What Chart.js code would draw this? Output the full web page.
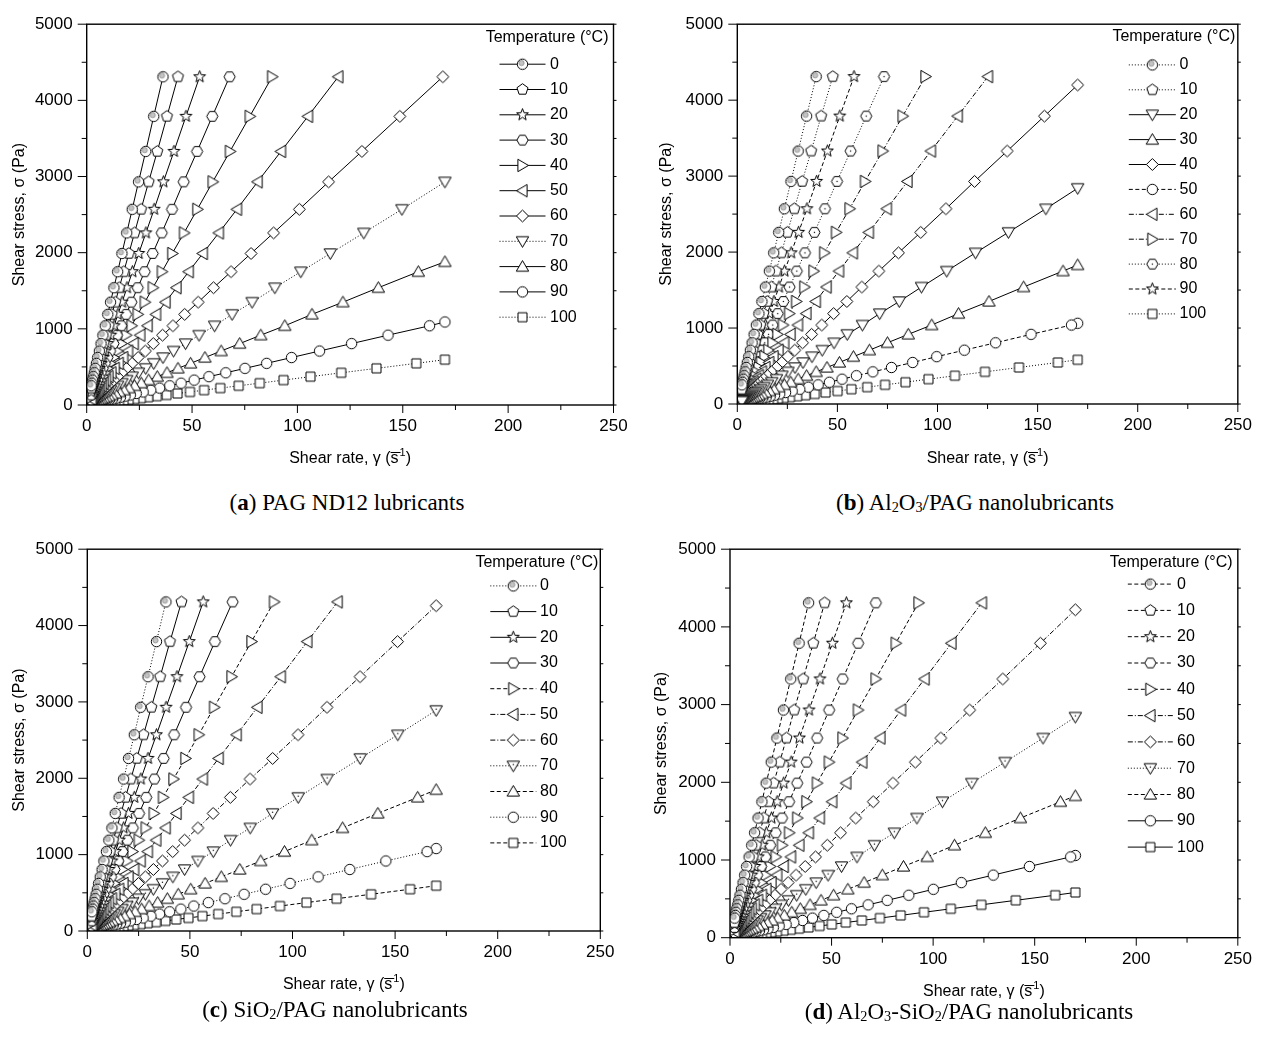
<!DOCTYPE html>
<html>
<head>
<meta charset="utf-8">
<script src="https://cdn.jsdelivr.net/npm/chart.js@4.4.1/dist/chart.umd.min.js"></script>
<style>
  body { margin: 0; background: #fff; width: 1263px; height: 1039px; position: relative; overflow: hidden; }
  canvas { position: absolute; }
  .cap { position: absolute; width: 460px; line-height: 30px; font-family: 'Liberation Serif', 'Times New Roman', serif; font-size: 23px; color: #000; text-align: center; white-space: nowrap; }
  .cap sub { font-size: 62%; vertical-align: -0.12em; }
</style>
</head>
<body>
<canvas id="pa" width="640" height="475" style="left:0;top:0"></canvas>
<canvas id="pb" width="623" height="475" style="left:640px;top:0"></canvas>
<canvas id="pc" width="640" height="480" style="left:0;top:525px"></canvas>
<canvas id="pd" width="623" height="480" style="left:640px;top:525px"></canvas>

<div class="cap" style="left:117px;top:488px">(<b>a</b>) PAG ND12 lubricants</div>
<div class="cap" style="left:745px;top:488px">(<b>b</b>) Al<sub>2</sub>O<sub>3</sub>/PAG nanolubricants</div>
<div class="cap" style="left:105px;top:995px">(<b>c</b>) SiO<sub>2</sub>/PAG nanolubricants</div>
<div class="cap" style="left:739px;top:997px">(<b>d</b>) Al<sub>2</sub>O<sub>3</sub>-SiO<sub>2</sub>/PAG nanolubricants</div>

<script>
// Shear stress levels of the ramp (Pa), shared by every series
const STRESS = [4310, 3790, 3330, 2930, 2570, 2260, 1990, 1750, 1540, 1350, 1190, 1040, 917, 806, 709, 623,
  547, 481, 423, 372, 327, 287, 252, 222, 195, 171, 151, 132, 116, 102, 90, 79, 70, 61, 54, 47, 42, 36,
  32, 28, 25, 22, 19, 17, 15];
const TEMPS = ['0', '10', '20', '30', '40', '50', '60', '70', '80', '90', '100'];
const END_RATE = 170; // last point of the series that stop at the max shear rate

// (a) PAG ND12 - shear rates (1/s), index i matches STRESS[start + i]
const A_RATE = [
  [36.2, 31.8, 28.0, 24.6, 21.6, 19.0, 16.7, 14.7, 12.9, 11.3, 10.0, 8.8, 7.7, 6.8, 6.0, 5.2, 4.6, 4.0, 3.6, 3.1, 2.7, 2.4, 2.1],
  [43.3, 38.1, 33.5, 29.4, 25.8, 22.7, 20.0, 17.6, 15.4, 13.6, 11.9, 10.5, 9.2, 8.1, 7.1, 6.3, 5.5, 4.8, 4.2, 3.7, 3.3, 2.9, 2.5, 2.2],
  [53.6, 47.1, 41.4, 36.4, 32.0, 28.1, 24.7, 21.7, 19.1, 16.8, 14.8, 13.0, 11.4, 10.0, 8.8, 7.7, 6.8, 6.0, 5.3, 4.6, 4.1, 3.6, 3.1, 2.8, 2.4, 2.1],
  [67.8, 59.6, 52.4, 46.0, 40.5, 35.6, 31.3, 27.5, 24.2, 21.2, 18.7, 16.4, 14.4, 12.7, 11.1, 9.8, 8.6, 7.6, 6.7, 5.8, 5.1, 4.5, 4.0, 3.5, 3.1, 2.7, 2.4, 2.1],
  [88.0, 77.4, 68.0, 59.8, 52.5, 46.2, 40.6, 35.7, 31.4, 27.6, 24.2, 21.3, 18.7, 16.5, 14.5, 12.7, 11.2, 9.8, 8.6, 7.6, 6.7, 5.9, 5.2, 4.5, 4.0, 3.5, 3.1, 2.7, 2.4, 2.1],
  [119.4, 105.0, 92.2, 81.1, 71.3, 62.7, 55.1, 48.4, 42.6, 37.4, 32.9, 28.9, 25.4, 22.3, 19.6, 17.3, 15.2, 13.3, 11.7, 10.3, 9.1, 8.0, 7.0, 6.1, 5.4, 4.8, 4.2, 3.7, 3.2, 2.8, 2.5, 2.2],
  [169.0, 148.6, 130.6, 114.8, 100.9, 88.7, 78.0, 68.5, 60.2, 52.9, 46.5, 40.9, 36.0, 31.6, 27.8, 24.4, 21.5, 18.9, 16.6, 14.6, 12.8, 11.3, 9.9, 8.7, 7.6, 6.7, 5.9, 5.2, 4.6, 4.0, 3.5, 3.1, 2.7, 2.4, 2.1],
  [149.6, 131.5, 115.6, 101.6, 89.3, 78.5, 69.0, 60.7, 53.3, 46.9, 41.2, 36.2, 31.8, 28.0, 24.6, 21.6, 19.0, 16.7, 14.7, 12.9, 11.3, 10.0, 8.8, 7.7, 6.8, 6.0, 5.2, 4.6, 4.0, 3.6, 3.1, 2.7, 2.4, 2.1],
  [157.4, 138.4, 121.6, 106.9, 94.0, 82.6, 72.6, 63.8, 56.1, 49.3, 43.3, 38.1, 33.5, 29.4, 25.9, 22.7, 20.0, 17.6, 15.4, 13.6, 11.9, 10.5, 9.2, 8.1, 7.1, 6.3, 5.5, 4.8, 4.3, 3.7, 3.3, 2.9, 2.5, 2.2],
  [162.7, 143.0, 125.7, 110.5, 97.2, 85.4, 75.1, 66.0, 58.0, 51.0, 44.8, 39.4, 34.6, 30.4, 26.8, 23.5, 20.7, 18.2, 16.0, 14.0, 12.3, 10.8, 9.5, 8.4, 7.4, 6.5, 5.7, 5.0, 4.4, 3.9, 3.4, 3.0, 2.6, 2.3],
  [156.4, 137.5, 120.8, 106.2, 93.4, 82.1, 72.1, 63.4, 55.7, 49.0, 43.1, 37.9, 33.3, 29.2, 25.7, 22.6, 19.9, 17.5, 15.3, 13.5, 11.9, 10.4, 9.2, 8.1, 7.1, 6.2, 5.5, 4.8, 4.2]
];
const A_START = [0, 0, 0, 0, 0, 0, 0, 4, 7, 11, 16];
const A_END = [null, null, null, null, null, null, null, 2930, 1880, 1090, 595];

// (b) Al2O3/PAG
const B_RATE = [
  [39.4, 34.6, 30.4, 26.8, 23.5, 20.7, 18.2, 16.0, 14.0, 12.3, 10.8, 9.5, 8.4, 7.4, 6.5, 5.7, 5.0, 4.4, 3.9, 3.4, 3.0, 2.6, 2.3],
  [47.7, 41.9, 36.9, 32.4, 28.5, 25.0, 22.0, 19.3, 17.0, 14.9, 13.1, 11.5, 10.1, 8.9, 7.8, 6.9, 6.1, 5.3, 4.7, 4.1, 3.6, 3.2, 2.8, 2.5, 2.2],
  [154.1, 135.4, 119.0, 104.6, 92.0, 80.9, 71.1, 62.5, 54.9, 48.3, 42.4, 37.3, 32.8, 28.8, 25.3, 22.3, 19.6, 17.2, 15.1, 13.3, 11.7, 10.3, 9.0, 7.9, 7.0, 6.1, 5.4, 4.7, 4.2, 3.7, 3.2, 2.8, 2.5, 2.2],
  [162.7, 143.0, 125.7, 110.5, 97.1, 85.4, 75.0, 66.0, 58.0, 51.0, 44.8, 39.4, 34.6, 30.4, 26.7, 23.5, 20.7, 18.2, 16.0, 14.0, 12.3, 10.8, 9.5, 8.4, 7.4, 6.5, 5.7, 5.0, 4.4, 3.9, 3.4, 3.0, 2.6, 2.3],
  [153.4, 134.8, 118.5, 104.2, 91.6, 80.5, 70.7, 62.2, 54.7, 48.1, 42.2, 37.1, 32.6, 28.7, 25.2, 22.2, 19.5, 17.1, 15.1, 13.2, 11.6, 10.2, 9.0, 7.9, 6.9, 6.1, 5.4, 4.7, 4.1, 3.6, 3.2, 2.8, 2.5, 2.2],
  [166.9, 146.7, 129.0, 113.4, 99.6, 87.6, 77.0, 67.7, 59.5, 52.3, 46.0, 40.4, 35.5, 31.2, 27.4, 24.1, 21.2, 18.6, 16.4, 14.4, 12.7, 11.1, 9.8, 8.6, 7.6, 6.6, 5.8, 5.1, 4.5, 4.0, 3.5, 3.1, 2.7, 2.4],
  [125.2, 110.1, 96.7, 85.0, 74.7, 65.7, 57.7, 50.8, 44.6, 39.2, 34.5, 30.3, 26.6, 23.4, 20.6, 18.1, 15.9, 14.0, 12.3, 10.8, 9.5, 8.3, 7.3, 6.4, 5.7, 5.0, 4.4, 3.8, 3.4, 3.0, 2.6, 2.3],
  [94.0, 82.6, 72.6, 63.8, 56.1, 49.3, 43.4, 38.1, 33.5, 29.4, 25.9, 22.8, 20.0, 17.6, 15.5, 13.6, 11.9, 10.5, 9.2, 8.1, 7.1, 6.3, 5.5, 4.8, 4.3, 3.7, 3.3, 2.9, 2.5, 2.2],
  [73.3, 64.4, 56.6, 49.8, 43.8, 38.5, 33.8, 29.7, 26.1, 23.0, 20.2, 17.7, 15.6, 13.7, 12.0, 10.6, 9.3, 8.2, 7.2, 6.3, 5.6, 4.9, 4.3, 3.8, 3.3, 2.9, 2.6, 2.3],
  [58.3, 51.2, 45.0, 39.6, 34.8, 30.6, 26.9, 23.6, 20.8, 18.3, 16.1, 14.1, 12.4, 10.9, 9.6, 8.4, 7.4, 6.5, 5.7, 5.0, 4.4, 3.9, 3.4, 3.0, 2.6, 2.3],
  [160.1, 140.7, 123.7, 108.7, 95.5, 84.0, 73.8, 64.9, 57.0, 50.1, 44.1, 38.7, 34.0, 29.9, 26.3, 23.1, 20.3, 17.9, 15.7, 13.8, 12.1, 10.7, 9.4, 8.2, 7.2, 6.4, 5.6, 4.9, 4.3]
];
const B_START = [0, 0, 4, 7, 1, 11, 0, 0, 0, 0, 16];
const B_END = [null, null, 2840, 1830, 4200, 1063, null, null, null, null, 582];

// (c) SiO2/PAG
const C_RATE = [
  [38.3, 33.7, 29.6, 26.0, 22.9, 20.1, 17.7, 15.5, 13.6, 12.0, 10.5, 9.3, 8.1, 7.2, 6.3, 5.5, 4.9, 4.3, 3.8, 3.3, 2.9, 2.6, 2.2],
  [45.9, 40.3, 35.5, 31.2, 27.4, 24.1, 21.2, 18.6, 16.4, 14.4, 12.6, 11.1, 9.8, 8.6, 7.5, 6.6, 5.8, 5.1, 4.5, 4.0, 3.5, 3.1, 2.7, 2.4, 2.1],
  [56.5, 49.7, 43.7, 38.4, 33.7, 29.6, 26.1, 22.9, 20.1, 17.7, 15.6, 13.7, 12.0, 10.6, 9.3, 8.2, 7.2, 6.3, 5.5, 4.9, 4.3, 3.8, 3.3, 2.9, 2.6, 2.2],
  [70.8, 62.2, 54.7, 48.1, 42.3, 37.2, 32.7, 28.7, 25.2, 22.2, 19.5, 17.1, 15.1, 13.2, 11.6, 10.2, 9.0, 7.9, 6.9, 6.1, 5.4, 4.7, 4.1, 3.6, 3.2, 2.8, 2.5, 2.2],
  [91.0, 80.0, 70.3, 61.8, 54.3, 47.8, 42.0, 36.9, 32.4, 28.5, 25.1, 22.0, 19.4, 17.0, 15.0, 13.1, 11.6, 10.2, 8.9, 7.8, 6.9, 6.1, 5.3, 4.7, 4.1, 3.6, 3.2, 2.8, 2.5, 2.2],
  [122.0, 107.2, 94.3, 82.9, 72.8, 64.0, 56.3, 49.5, 43.5, 38.2, 33.6, 29.5, 26.0, 22.8, 20.1, 17.6, 15.5, 13.6, 12.0, 10.5, 9.2, 8.1, 7.1, 6.3, 5.5, 4.9, 4.3, 3.8, 3.3, 2.9, 2.5, 2.2],
  [151.2, 132.9, 116.8, 102.7, 90.3, 79.3, 69.7, 61.3, 53.9, 47.4, 41.6, 36.6, 32.2, 28.3, 24.9, 21.8, 19.2, 16.9, 14.8, 13.0, 11.5, 10.1, 8.9, 7.8, 6.8, 6.0, 5.3, 4.6, 4.1, 3.6, 3.2, 2.8, 2.4, 2.1],
  [151.3, 133.0, 116.9, 102.8, 90.3, 79.4, 69.8, 61.4, 53.9, 47.4, 41.7, 36.6, 32.2, 28.3, 24.9, 21.9, 19.2, 16.9, 14.9, 13.1, 11.5, 10.1, 8.9, 7.8, 6.8, 6.0, 5.3, 4.7, 4.1, 3.6, 3.2, 2.8, 2.4, 2.1],
  [161.0, 141.6, 124.4, 109.4, 96.1, 84.5, 74.3, 65.3, 57.4, 50.4, 44.3, 39.0, 34.3, 30.1, 26.5, 23.3, 20.5, 18.0, 15.8, 13.9, 12.2, 10.7, 9.4, 8.3, 7.3, 6.4, 5.6, 5.0, 4.4, 3.8, 3.4, 3.0, 2.6, 2.3],
  [165.6, 145.5, 127.9, 112.5, 98.8, 86.9, 76.4, 67.1, 59.0, 51.9, 45.6, 40.1, 35.2, 31.0, 27.2, 23.9, 21.0, 18.5, 16.2, 14.3, 12.6, 11.0, 9.7, 8.5, 7.5, 6.6, 5.8, 5.1, 4.5, 3.9, 3.5, 3.0, 2.7, 2.3],
  [157.3, 138.3, 121.5, 106.8, 93.9, 82.5, 72.6, 63.8, 56.1, 49.3, 43.3, 38.1, 33.5, 29.4, 25.9, 22.7, 20.0, 17.6, 15.4, 13.6, 11.9, 10.5, 9.2, 8.1, 7.1, 6.3, 5.5, 4.8, 4.3]
];
const C_START = [0, 0, 0, 0, 0, 0, 1, 4, 7, 11, 16];
const C_END = [null, null, null, null, null, null, 4260, 2890, 1850, 1080, 593];

// (d) Al2O3-SiO2/PAG
const D_RATE = [
  [38.7, 34.0, 29.9, 26.3, 23.1, 20.3, 17.8, 15.7, 13.8, 12.1, 10.7, 9.4, 8.2, 7.2, 6.4, 5.6, 4.9, 4.3, 3.8, 3.3, 2.9, 2.6, 2.3],
  [46.6, 41.0, 36.0, 31.6, 27.8, 24.5, 21.5, 18.9, 16.6, 14.6, 12.8, 11.3, 9.9, 8.7, 7.7, 6.7, 5.9, 5.2, 4.6, 4.0, 3.5, 3.1, 2.7, 2.4, 2.1],
  [57.3, 50.4, 44.3, 38.9, 34.2, 30.1, 26.4, 23.2, 20.4, 17.9, 15.8, 13.9, 12.2, 10.7, 9.4, 8.3, 7.3, 6.4, 5.6, 4.9, 4.3, 3.8, 3.4, 3.0, 2.6, 2.3],
  [71.8, 63.1, 55.5, 48.8, 42.9, 37.7, 33.1, 29.1, 25.6, 22.5, 19.8, 17.4, 15.3, 13.4, 11.8, 10.4, 9.1, 8.0, 7.0, 6.2, 5.4, 4.8, 4.2, 3.7, 3.2, 2.9, 2.5, 2.2],
  [92.8, 81.6, 71.7, 63.0, 55.4, 48.7, 42.8, 37.6, 33.1, 29.1, 25.6, 22.5, 19.7, 17.4, 15.3, 13.4, 11.8, 10.4, 9.1, 8.0, 7.0, 6.2, 5.4, 4.8, 4.2, 3.7, 3.2, 2.9, 2.5, 2.2],
  [124.0, 109.0, 95.8, 84.2, 74.0, 65.1, 57.2, 50.3, 44.2, 38.8, 34.1, 30.0, 26.4, 23.2, 20.4, 17.9, 15.7, 13.8, 12.2, 10.7, 9.4, 8.3, 7.3, 6.4, 5.6, 4.9, 4.3, 3.8, 3.4, 2.9, 2.6, 2.3],
  [152.8, 134.3, 118.0, 103.8, 91.2, 80.2, 70.5, 61.9, 54.4, 47.9, 42.1, 37.0, 32.5, 28.6, 25.1, 22.1, 19.4, 17.1, 15.0, 13.2, 11.6, 10.2, 8.9, 7.9, 6.9, 6.1, 5.3, 4.7, 4.1, 3.6, 3.2, 2.8, 2.5, 2.2],
  [154.1, 135.4, 119.0, 104.6, 92.0, 80.9, 71.1, 62.5, 54.9, 48.3, 42.4, 37.3, 32.8, 28.8, 25.3, 22.3, 19.6, 17.2, 15.1, 13.3, 11.7, 10.3, 9.0, 7.9, 7.0, 6.1, 5.4, 4.7, 4.2, 3.7, 3.2, 2.8, 2.5, 2.2],
  [162.7, 143.0, 125.7, 110.5, 97.1, 85.4, 75.0, 66.0, 58.0, 51.0, 44.8, 39.4, 34.6, 30.4, 26.7, 23.5, 20.7, 18.2, 16.0, 14.0, 12.3, 10.8, 9.5, 8.4, 7.4, 6.5, 5.7, 5.0, 4.4, 3.9, 3.4, 3.0, 2.6, 2.3],
  [167.7, 147.4, 129.6, 113.9, 100.1, 88.0, 77.4, 68.0, 59.8, 52.5, 46.2, 40.6, 35.7, 31.4, 27.6, 24.2, 21.3, 18.7, 16.5, 14.5, 12.7, 11.2, 9.8, 8.6, 7.6, 6.7, 5.9, 5.2, 4.5, 4.0, 3.5, 3.1, 2.7, 2.4],
  [160.1, 140.7, 123.7, 108.7, 95.5, 84.0, 73.8, 64.9, 57.0, 50.1, 44.1, 38.7, 34.0, 29.9, 26.3, 23.1, 20.3, 17.9, 15.7, 13.8, 12.1, 10.7, 9.4, 8.2, 7.2, 6.4, 5.6, 4.9, 4.3]
];
const D_START = [0, 0, 0, 0, 0, 0, 1, 4, 7, 11, 16];
const D_END = [null, null, null, null, null, null, 4220, 2840, 1825, 1058, 582];

// marker and line style per legend row
const A_SHAPES = ['half', 'pent', 'star', 'hex', 'right', 'left', 'diamond', 'down', 'up', 'circle', 'square'];
const B_SHAPES = ['half', 'pent', 'down', 'up', 'diamond', 'circle', 'left', 'right', 'hexDot', 'star', 'square'];
const C_SHAPES = ['half', 'pent', 'star', 'hex', 'right', 'left', 'diamond', 'downDot', 'up', 'circle', 'square'];
const A_DASH = ['solid', 'solid', 'solid', 'solid', 'solid', 'solid', 'solid', 'dot', 'solid', 'solid', 'dot'];
const B_DASH = ['dot', 'dot', 'solid', 'solid', 'solid', 'dash', 'dashdot', 'dashdot', 'dot', 'dash', 'dot'];
const C_DASH = ['dot', 'solid', 'solid', 'solid', 'dash', 'dashdot', 'dashdot', 'dot', 'dash', 'dot', 'dash'];
const D_DASH = ['dash', 'dash', 'dash', 'dash', 'dash', 'dashdot', 'dashdot', 'dot', 'dash', 'solid', 'solid'];

const DASHES = { solid: [], dot: [1, 2], dash: [4, 2.5], dashdot: [5, 2, 1, 2] };
const FONT = '"Liberation Sans", Arial, sans-serif';
Chart.defaults.font.family = FONT;
Chart.defaults.color = '#000';

function makeMarker(kind) {
  const size = 17, c = 8.5;
  const cv = document.createElement('canvas');
  cv.width = size;
  cv.height = size;
  const g = cv.getContext('2d');
  g.lineWidth = 1;
  g.strokeStyle = '#000';
  g.fillStyle = '#fff';
  const poly = pts => {
    pts.forEach(([px, py], i) => i ? g.lineTo(c + px, c + py) : g.moveTo(c + px, c + py));
    g.closePath();
  };
  const ngon = (n, r, a0) => {
    const pts = [];
    for (let i = 0; i < n; i++) {
      const t = a0 + i * 2 * Math.PI / n;
      pts.push([r * Math.cos(t), r * Math.sin(t)]);
    }
    poly(pts);
  };
  g.beginPath();
  switch (kind) {
    case 'circle':
    case 'half': g.arc(c, c, 5.2, 0, Math.PI * 2); break;
    case 'square': g.rect(c - 4.5, c - 4.5, 9, 9); break;
    case 'diamond': poly([[0, -6], [6, 0], [0, 6], [-6, 0]]); break;
    case 'up': poly([[0, -6], [6.2, 4.6], [-6.2, 4.6]]); break;
    case 'down':
    case 'downDot': poly([[0, 6], [6.2, -4.6], [-6.2, -4.6]]); break;
    case 'right': poly([[6, 0], [-4.6, -6.2], [-4.6, 6.2]]); break;
    case 'left': poly([[-6, 0], [4.6, -6.2], [4.6, 6.2]]); break;
    case 'pent': ngon(5, 5.8, -Math.PI / 2); break;
    case 'hex':
    case 'hexDot': ngon(6, 5.6, 0); break;
    case 'star': {
      const pts = [];
      for (let i = 0; i < 10; i++) {
        const r = i % 2 ? 2.6 : 6.2;
        const t = -Math.PI / 2 + i * Math.PI / 5;
        pts.push([r * Math.cos(t), r * Math.sin(t)]);
      }
      poly(pts);
      break;
    }
  }
  g.fill();
  g.stroke();
  if (kind === 'half') {
    g.beginPath();
    g.arc(c - 1, c - 1.3, 2.6, 0, Math.PI * 2);
    g.fillStyle = '#c4c4c4';
    g.fill();
    g.strokeStyle = '#9a9a9a';
    g.stroke();
  }
  if (kind === 'downDot' || kind === 'hexDot') {
    g.fillStyle = '#000';
    g.fillRect(c - 0.6, kind === 'downDot' ? c - 1.8 : c - 0.6, 1.2, 1.2);
  }
  return cv;
}

function drawXTitle(ctx, cx, cy) {
  const big = '16px ' + FONT, small = '11px ' + FONT;
  const head = 'Shear rate, \u03b3 (s', sup = '1', tail = ')';
  ctx.font = big;
  const w0 = ctx.measureText(head).width;
  const ws = ctx.measureText('s').width;
  const w2 = ctx.measureText(tail).width;
  ctx.font = small;
  const w1 = ctx.measureText(sup).width;
  const x0 = cx - (w0 + w1 + 1 + w2) / 2;
  ctx.textAlign = 'left';
  ctx.textBaseline = 'alphabetic';
  ctx.font = big;
  ctx.fillText(head, x0, cy + 6);
  ctx.beginPath();
  ctx.lineWidth = 1;
  ctx.moveTo(x0 + w0 - ws, cy - 4.5);
  ctx.lineTo(x0 + w0 + 2, cy - 4.5);
  ctx.stroke();
  ctx.font = small;
  ctx.fillText(sup, x0 + w0 + 1, cy - 1);
  ctx.font = big;
  ctx.fillText(tail, x0 + w0 + w1 + 1, cy + 6);
}

const framePlugin = {
  id: 'frame',
  afterDraw(chart, args, opts) {
    const { ctx, chartArea: a, scales: { x, y } } = chart;
    ctx.save();
    ctx.strokeStyle = '#000';
    ctx.fillStyle = '#000';
    ctx.lineWidth = 1.4;
    ctx.strokeRect(a.left, a.top, a.right - a.left, a.bottom - a.top);
    ctx.lineWidth = 1;
    ctx.beginPath();
    for (let v = 0; v <= 250; v += 25) {
      const px = x.getPixelForValue(v);
      ctx.moveTo(px, a.bottom);
      ctx.lineTo(px, a.bottom + (v % 50 === 0 ? 8 : 5));
    }
    for (let v = 0; v <= 5000; v += 500) {
      const py = y.getPixelForValue(v);
      ctx.moveTo(a.left, py);
      ctx.lineTo(a.left - (v % 1000 === 0 ? 9 : 5), py);
      ctx.moveTo(a.right, py);
      ctx.lineTo(a.right + 3, py);
    }
    ctx.stroke();

    // axis titles
    ctx.font = '16px ' + FONT;
    ctx.textAlign = 'center';
    ctx.textBaseline = 'middle';
    ctx.save();
    ctx.translate(opts.yTitleX, (a.top + a.bottom) / 2);
    ctx.rotate(-Math.PI / 2);
    ctx.fillText('Shear stress, \u03c3 (Pa)', 0, 0);
    ctx.restore();
    drawXTitle(ctx, (a.left + a.right) / 2, opts.xTitleY);

    // legend
    const L = opts.legend;
    ctx.font = '16px ' + FONT;
    ctx.textBaseline = 'middle';
    ctx.textAlign = 'right';
    ctx.fillText('Temperature (\u00b0C)', a.right + L.titleR, a.top + L.titleDy);
    chart.data.datasets.forEach((ds, i) => {
      const yy = a.top + L.firstDy + i * L.step;
      ctx.setLineDash(ds.borderDash);
      ctx.beginPath();
      ctx.moveTo(a.right + L.x0, yy);
      ctx.lineTo(a.right + L.x1, yy);
      ctx.stroke();
      ctx.setLineDash([]);
      const img = ds.pointStyle;
      ctx.drawImage(img, a.right + (L.x0 + L.x1) / 2 - img.width / 2, yy - img.height / 2);
      ctx.textAlign = 'left';
      ctx.fillText(ds.label, a.right + L.tx, yy);
    });
    ctx.restore();
  }
};

const PANELS = [
  { id: 'pa', rate: A_RATE, start: A_START, end: A_END, shapes: A_SHAPES, dash: A_DASH,
    yW: 86.7, xH: 70, top: 20, right: 26.5, yTitleX: 20, xTitleY: 457,
    legend: { titleR: -5, titleDy: 13.3, firstDy: 40, step: 25.3, x0: -114, x1: -68, tx: -63.5 } },
  { id: 'pb', rate: B_RATE, start: B_START, end: B_END, shapes: B_SHAPES, dash: B_DASH,
    yW: 97.3, xH: 71, top: 20, right: 19, yTitleX: 27, xTitleY: 457,
    legend: { titleR: -2.5, titleDy: 12.3, firstDy: 40.7, step: 24.9, x0: -109, x1: -62, tx: -58.3 } },
  { id: 'pc', rate: C_RATE, start: C_START, end: C_END, shapes: C_SHAPES, dash: C_DASH,
    yW: 87.3, xH: 74, top: 18.3, right: 39.7, yTitleX: 20, xTitleY: 458,
    legend: { titleR: -2, titleDy: 13.4, firstDy: 36.7, step: 25.7, x0: -110, x1: -64, tx: -60.3 } },
  { id: 'pd', rate: D_RATE, start: D_START, end: D_END, shapes: C_SHAPES, dash: D_DASH,
    yW: 90, xH: 67.3, top: 17.4, right: 20, yTitleX: 22, xTitleY: 465,
    legend: { titleR: -5.3, titleDy: 13.3, firstDy: 34.9, step: 26.3, x0: -110, x1: -65, tx: -60.7 } }
];

PANELS.forEach(p => {
  const datasets = TEMPS.map((t, k) => {
    const pts = [];
    if (p.end[k] !== null) pts.push({ x: END_RATE, y: p.end[k] });
    p.rate[k].forEach((r, i) => pts.push({ x: r, y: STRESS[p.start[k] + i] }));
    return {
      label: t,
      data: pts,
      showLine: true,
      borderColor: '#000',
      borderWidth: 1,
      borderDash: DASHES[p.dash[k]],
      pointStyle: makeMarker(p.shapes[k]),
      pointRadius: 5,
      tension: 0,
      fill: false
    };
  });

  new Chart(document.getElementById(p.id), {
    type: 'scatter',
    data: { datasets },
    plugins: [framePlugin],
    options: {
      responsive: false,
      animation: false,
      devicePixelRatio: 1,
      events: [],
      layout: { padding: { top: p.top, right: p.right, left: 0, bottom: 0 } },
      plugins: {
        legend: { display: false },
        tooltip: { enabled: false },
        frame: { yTitleX: p.yTitleX, xTitleY: p.xTitleY, legend: p.legend }
      },
      scales: {
        x: {
          type: 'linear', min: 0, max: 250,
          ticks: { stepSize: 50, font: { size: 17 }, color: '#000', padding: 11, maxRotation: 0, callback: v => String(v) },
          grid: { display: false, drawTicks: false },
          border: { display: false },
          afterFit: s => { s.height = p.xH; }
        },
        y: {
          type: 'linear', min: 0, max: 5000,
          ticks: { stepSize: 1000, font: { size: 17 }, color: '#000', padding: 14, callback: v => String(v) },
          grid: { display: false, drawTicks: false },
          border: { display: false },
          afterFit: s => { s.width = p.yW; }
        }
      }
    }
  });
});
</script>
</body>
</html>
